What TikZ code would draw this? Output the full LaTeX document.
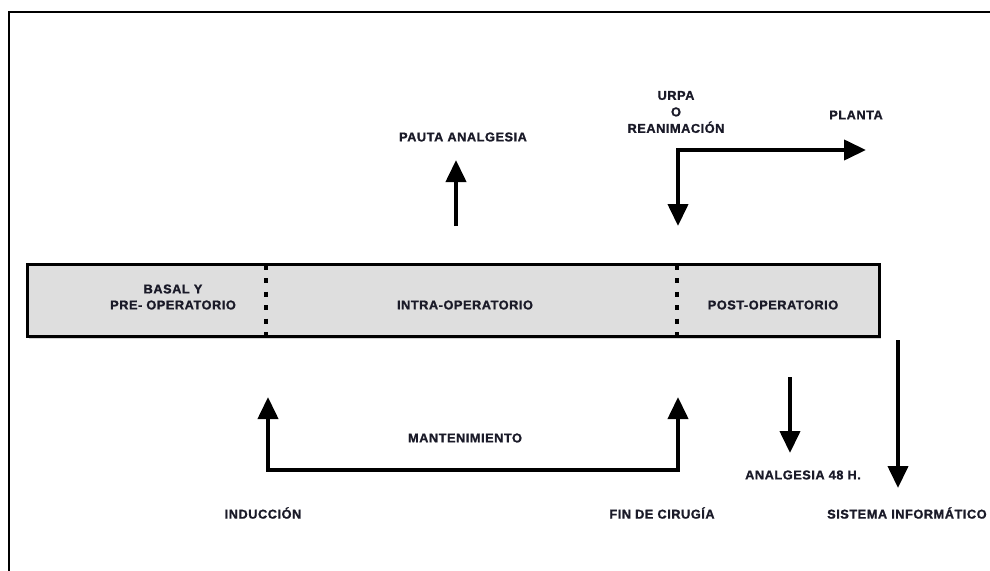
\documentclass[tikz,border=0pt]{standalone}
\usepackage{fontspec}
\setmainfont{Liberation Sans}[LetterSpace=4, BoldFeatures={FakeBold=1.2}]
\usetikzlibrary{arrows.meta,shadows}
\definecolor{boxgray}{HTML}{DEDEDE}
\definecolor{txt}{HTML}{1A1A28}
\begin{document}
\begin{tikzpicture}[x=1pt,y=-1pt,
  lbl/.style={font=\bfseries\fontsize{12.8}{16}\selectfont, text=txt, align=center, inner sep=0pt},
  arr/.style={line width=4pt, -{Triangle[width=20pt,length=22pt]}},
  divider/.style={line width=4pt, dash pattern=on 5pt off 8.4pt},
  phase/.style={draw, line width=3pt, fill=boxgray, minimum width=852pt, minimum height=72pt, inner sep=0pt,
    drop shadow={opacity=0.35, shadow xshift=2pt, shadow yshift=-2.5pt}}]
\useasboundingbox (0,0) rectangle (990,570);
\clip (0,0) rectangle (990,570);
% frame
\draw[line width=1.5pt] (9,575) -- (9,12) -- (995,12);
% main box
\node[phase] (box) at (453,300) {};
\coordinate (d1t) at (266,265); \coordinate (d1b) at (266,337);
\coordinate (d2t) at (677,265); \coordinate (d2b) at (677,337);
\draw[divider] (d1t) -- (d1b);
\draw[divider] (d2t) -- (d2b);
\node[lbl] (basal) at (173,297) {BASAL Y\\PRE- OPERATORIO};
\node[lbl] (intra) at (465,305) {INTRA-OPERATORIO};
\node[lbl] (post) at (773,305) {POST-OPERATORIO};
% top labels
\node[lbl, font=\bfseries\fontsize{12.8}{16.5}\selectfont] (urpa) at (676,112) {URPA\\O\\REANIMACIÓN};
\node[lbl] (pauta) at (463,137) {PAUTA ANALGESIA};
\node[lbl] (planta) at (856,115) {PLANTA};
% bottom labels
\node[lbl] (mant) at (465,438) {MANTENIMIENTO};
\node[lbl] (ind) at (263,513) {INDUCCIÓN};
\node[lbl] (fin) at (662,513) {FIN DE CIRUGÍA};
\node[lbl] (an48) at (803,475) {ANALGESIA 48 H.};
\node[lbl, anchor=west] (sist) at (827,513) {SISTEMA INFORMÁTICO};
% arrow coordinates
\coordinate (pautaS) at (456,226);
\coordinate (pautaE) at (456,160);
\coordinate (urpaE) at (678,226);
\coordinate (plantaE) at (866,150);
\coordinate (indE) at (268,397);
\coordinate (finE) at (678,397);
\coordinate (mantL) at (268,470);
\coordinate (mantR) at (678,470);
\coordinate (anS) at (790,377);
\coordinate (anE) at (790,453);
\coordinate (siS) at (898,340);
\coordinate (siE) at (898,488);
% arrows
\draw[arr] (pautaS) -- (pautaE);
\draw[line width=4pt, {Triangle[width=20pt,length=22pt]}-{Triangle[width=20pt,length=22pt]}] (urpaE) |- (plantaE);
\draw[line width=4pt, {Triangle[width=20pt,length=22pt]}-{Triangle[width=20pt,length=22pt]}] (indE) -- (mantL) -- (mantR) -- (finE);
\draw[arr] (anS) -- (anE);
\draw[arr] (siS) -- (siE);
\end{tikzpicture}
\end{document}
